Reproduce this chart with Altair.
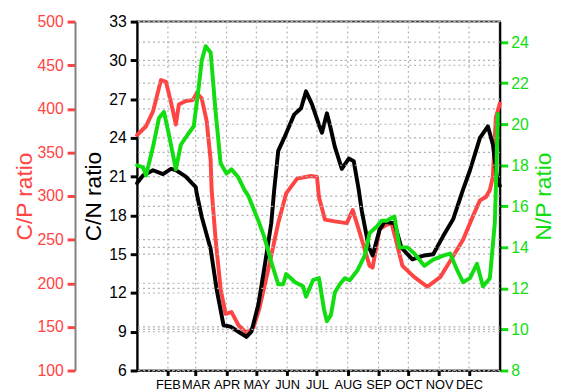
import altair as alt
import pandas as pd

# ---- data (day of year -> ratio) ----
CP_DAYS = [1, 10, 17, 25, 30, 35, 40, 43, 50, 57, 61, 66, 71, 75, 76, 80, 85, 90, 96, 103,
           111, 118, 124, 133, 143, 151, 162, 176, 182, 184, 190, 200, 212, 218, 225, 235,
           238, 245, 252, 257, 262, 268, 280, 293, 306, 319, 329, 339, 346, 352, 356, 359,
           362, 366]
CP_VALUES = [370, 380, 397, 433, 431, 408, 382, 405, 409, 410, 418, 412, 386, 341, 307, 250,
             194, 165, 167, 152, 143, 149, 171, 216, 269, 303, 320, 323, 322, 299, 273, 271,
             269, 284, 258, 220, 218, 262, 267, 269, 247, 220, 207, 196, 207, 231, 250, 277,
             295, 299, 307, 322, 390, 406]

CN_DAYS = [1, 7, 17, 27, 35, 40, 50, 60, 61, 66, 75, 81, 88, 95, 103, 111, 116, 123, 129,
           136, 139, 143, 149, 159, 166, 171, 177, 184, 187, 192, 195, 200, 207, 214, 219,
           224, 227, 234, 238, 245, 250, 260, 267, 278, 290, 299, 309, 319, 329, 336, 346,
           354, 359, 364, 366]
CN_VALUES = [20.5, 21.1, 21.5, 21.2, 21.6, 21.5, 21.0, 20.2, 19.7, 17.9, 15.4, 12.3, 9.5, 9.4,
             9.0, 8.6, 9.0, 11.1, 13.9, 17.4, 20.0, 23.0, 24.0, 25.8, 26.3, 27.6, 26.6, 25.0,
             24.4, 25.9, 25.0, 23.3, 21.6, 22.4, 22.2, 20.0, 18.4, 15.6, 14.9, 16.9, 17.5,
             17.4, 15.5, 14.6, 14.9, 15.0, 16.4, 17.7, 20.0, 21.5, 24.0, 24.9, 23.5, 20.4,
             20.3]

NP_DAYS = [1, 7, 10, 17, 23, 28, 33, 40, 45, 52, 58, 63, 66, 70, 75, 80, 85, 91, 96, 103,
           109, 113, 123, 129, 136, 143, 148, 151, 160, 168, 171, 178, 184, 189, 192, 196,
           200, 205, 210, 215, 223, 230, 235, 242, 247, 252, 260, 265, 273, 280, 290, 299,
           309, 316, 323, 329, 336, 343, 349, 356, 361, 362, 364]
NP_VALUES = [18.0, 17.9, 17.5, 18.9, 20.3, 20.6, 19.5, 17.8, 19.0, 19.5, 19.9, 21.8, 23.1,
             23.8, 23.5, 20.6, 18.1, 17.6, 17.8, 17.4, 16.8, 16.5, 15.3, 14.5, 13.3, 12.2,
             12.2, 12.7, 12.3, 12.1, 11.6, 12.4, 12.5, 11.0, 10.4, 10.7, 11.8, 12.2, 12.5,
             12.4, 12.9, 13.6, 14.7, 15.0, 15.3, 15.3, 15.5, 14.0, 14.0, 13.7, 13.1, 13.4,
             13.6, 13.7, 12.9, 12.3, 12.5, 13.2, 12.1, 12.5, 15.2, 16.8, 20.5]

MONTH_DAYS = [32, 60, 91, 121, 152, 182, 213, 244, 274, 305, 335]
MONTH_LABELS = ["FEB", "MAR", "APR", "MAY", "JUN", "JUL", "AUG", "SEP", "OCT", "NOV", "DEC"]

CP_TICKS = list(range(100, 501, 50))
CN_TICKS = list(range(6, 34, 3))
NP_TICKS = list(range(8, 25, 2))

RED = "#ff4444"
GREEN = "#11dd11"
BLACK = "#000000"
FONT = "Liberation Sans"
GRID = "#b0b0b0"
GRID_DASH = [2, 3]

cp_df = pd.DataFrame({"day": CP_DAYS, "value": CP_VALUES})
cn_df = pd.DataFrame({"day": CN_DAYS, "value": CN_VALUES})
np_df = pd.DataFrame({"day": NP_DAYS, "value": NP_VALUES})

label_expr = "''"
for d, lab in reversed(list(zip(MONTH_DAYS, MONTH_LABELS))):
    label_expr = f"datum.value == {d} ? '{lab}' : ({label_expr})"

x_scale = alt.Scale(domain=[1, 366], nice=False, zero=False)
cp_scale = alt.Scale(domain=[100, 500], nice=False, zero=False)
cn_scale = alt.Scale(domain=[6, 33], nice=False, zero=False)
np_scale = alt.Scale(domain=[8, 25], nice=False, zero=False)

x_axis = alt.Axis(
    values=MONTH_DAYS, labelExpr=label_expr, title=None, grid=False,
    tickSize=5, tickWidth=3, tickColor=BLACK,
    domainColor=BLACK, domainWidth=1.5, domainDash=[3, 1],
    labelFont=FONT, labelFontSize=13, labelColor=BLACK, labelPadding=3,
    labelFlush=False, labelOverlap=False,
)
x_enc = alt.X("day:Q", scale=x_scale, axis=x_axis)


def y_axis(orient, offset, values, title, color, title_x, domain_color, tick_size, pad):
    return alt.Axis(
        orient=orient, offset=offset, values=values, grid=False,
        title=title, titleColor=color, titleFont=FONT, titleFontSize=23,
        titleFontWeight="normal", titleAngle=270, titleBaseline="alphabetic",
        titleAlign="center", titleX=title_x, titleY=177,
        labelColor=color, labelFont=FONT, labelFontSize=16, labelPadding=pad,
        labelOverlap=False,
        tickColor=color, tickSize=tick_size, tickWidth=3,
        domainColor=domain_color, domainWidth=2,
    )


cp_axis = y_axis("left", 63, CP_TICKS, "C/P ratio", RED, -44, "#808080", 8, 4)
cn_axis = y_axis("left", 0, CN_TICKS, "C/N ratio", BLACK, -37, BLACK, 7, 4)
np_axis = y_axis("right", 0, NP_TICKS, "N/P ratio", GREEN, 51, BLACK, 8, 3)

rule_kw = dict(color=GRID, strokeWidth=1.2, strokeDash=GRID_DASH)
line_kw = dict(strokeWidth=4, strokeJoin="round", strokeCap="round")

# dotted vertical grid at the month ticks
vgrid = alt.Chart(pd.DataFrame({"day": MONTH_DAYS})).mark_rule(**rule_kw).encode(x=x_enc)


def series_layer(df, ticks, scale, axis, color):
    y_enc = alt.Y("value:Q", scale=scale, axis=axis)
    grid = alt.Chart(pd.DataFrame({"value": ticks})).mark_rule(**rule_kw).encode(y=y_enc)
    line = alt.Chart(df).mark_line(color=color, **line_kw).encode(x=x_enc, y=y_enc)
    return alt.layer(grid, line)


cp_layer = series_layer(cp_df, CP_TICKS, cp_scale, cp_axis, RED)
cn_layer = series_layer(cn_df, CN_TICKS, cn_scale, cn_axis, BLACK)
np_layer = series_layer(np_df, NP_TICKS, np_scale, np_axis, GREEN)

chart = (
    alt.layer(vgrid, cp_layer, cn_layer, np_layer)
    .resolve_scale(y="independent")
    .properties(
        width=368, height=354,
        autosize=alt.AutoSizeParams(type="none"),
        padding={"left": 131, "top": 11, "right": 56, "bottom": 19},
        background="white",
    )
    .configure(font=FONT)
    .configure_view(stroke="#444444", strokeWidth=2)
)

chart.save("out.html", embed_options={"renderer": "svg", "actions": False})
